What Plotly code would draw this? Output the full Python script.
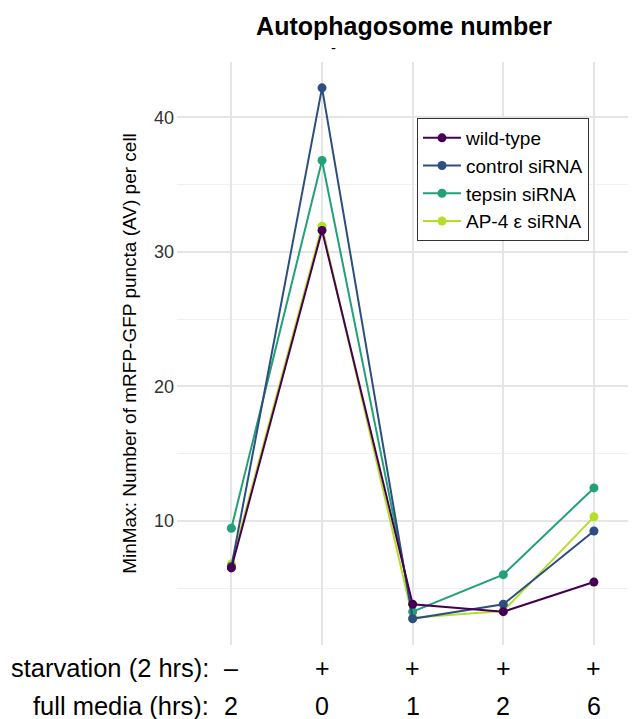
import plotly.graph_objects as go

conditions = [1, 2, 3, 4, 5]
starvation_labels = ["–", "+", "+", "+", "+"]
full_media_labels = ["2", "0", "1", "2", "6"]

series_names = ["wild-type", "control siRNA", "tepsin siRNA", "AP-4 ε siRNA"]
wild_type = [6.5, 31.6, 3.8, 3.25, 5.45]
control_sirna = [6.6, 42.2, 2.72, 3.8, 9.25]
tepsin_sirna = [9.45, 36.8, 3.25, 6.0, 12.45]
ap4_sirna = [6.8, 31.9, 2.8, 3.3, 10.3]
series_values = [wild_type, control_sirna, tepsin_sirna, ap4_sirna]
colors = ["#440154", "#2C4F7F", "#22A077", "#B5DE2B"]

y_ticks = [10, 20, 30, 40]

# page offset of the figure (default body margin) and layout geometry (screen pixels)
OFF = 8
W, H = 636 - OFF, 719 - OFF
L, T = 177 - OFF, 62 - OFF
R, B = 0, 719 - 645
PW, PH = W - L - R, H - T - B


def px_x(x):
    return (x - OFF - L) / PW


def px_y(y):
    return 1 - (y - OFF - T) / PH


fig = go.Figure()
# drawn last-to-first so wild-type sits on top; legend order reversed back
for name, vals, col in reversed(list(zip(series_names, series_values, colors))):
    fig.add_trace(go.Scatter(
        x=conditions, y=vals, name=name, mode="lines+markers",
        legendgroup=name,
        line=dict(color=col, width=2),
        marker=dict(color=col, size=9),
    ))

font_family = "Liberation Sans, Arial, sans-serif"

annotations = []
for x, s, f in zip(conditions, starvation_labels, full_media_labels):
    annotations.append(dict(text=s, x=x, xref="x", y=px_y(668), yref="paper",
                            showarrow=False, font=dict(size=25, color="black"),
                            yanchor="middle"))
    annotations.append(dict(text=f, x=x, xref="x", y=px_y(706), yref="paper",
                            showarrow=False, font=dict(size=25, color="black"),
                            yanchor="middle"))
annotations.append(dict(text="starvation (2 hrs):", x=px_x(211), xref="paper",
                        y=px_y(668), yref="paper", showarrow=False, xanchor="right",
                        yanchor="middle", font=dict(size=25.5, color="black")))
annotations.append(dict(text="full media (hrs):", x=px_x(211), xref="paper",
                        y=px_y(706), yref="paper", showarrow=False, xanchor="right",
                        yanchor="middle", font=dict(size=25.5, color="black")))
annotations.append(dict(text="-", x=px_x(333), xref="paper", y=px_y(47), yref="paper",
                        showarrow=False, yanchor="middle",
                        font=dict(size=15, color="black")))

fig.update_layout(
    width=W, height=H,
    margin=dict(l=L, r=R, t=T, b=B),
    paper_bgcolor="white", plot_bgcolor="white",
    font=dict(family=font_family, color="black"),
    title=dict(text="<b>Autophagosome number</b>", x=(404 - OFF) / W, xanchor="center",
               y=1 - (26 - OFF) / H, yanchor="middle", font=dict(size=25, color="black")),
    showlegend=True,
    legend=dict(x=px_x(417), y=px_y(118),
                xanchor="left", yanchor="top", traceorder="reversed",
                bordercolor="#333333", borderwidth=1, bgcolor="white",
                font=dict(size=19, color="black"), tracegroupgap=5,
                itemwidth=38),
    annotations=annotations,
)

fig.update_xaxes(
    range=[0.4, 1 + (636 - 232) / 90.5], tickvals=conditions, ticktext=[""] * 5,
    showgrid=True, gridcolor="#E5E5E5", gridwidth=1.5, zeroline=False,
    showline=False, ticks="", automargin=False,
)
fig.update_yaxes(
    range=[0.77, 44.12], tickvals=y_ticks,
    showgrid=True, gridcolor="#E5E5E5", gridwidth=1.5, zeroline=False,
    showline=False, ticks="", tickfont=dict(size=18, color="#333333"),
    ticklabelstandoff=2, automargin=False,
    title=dict(text="MinMax: Number of mRFP-GFP puncta (AV) per cell",
               font=dict(size=19, color="black"), standoff=12),
    minor=dict(tickvals=[5, 15, 25, 35], showgrid=True, gridcolor="#F0F0F0", gridwidth=1),
)

fig.write_html("out.html")
